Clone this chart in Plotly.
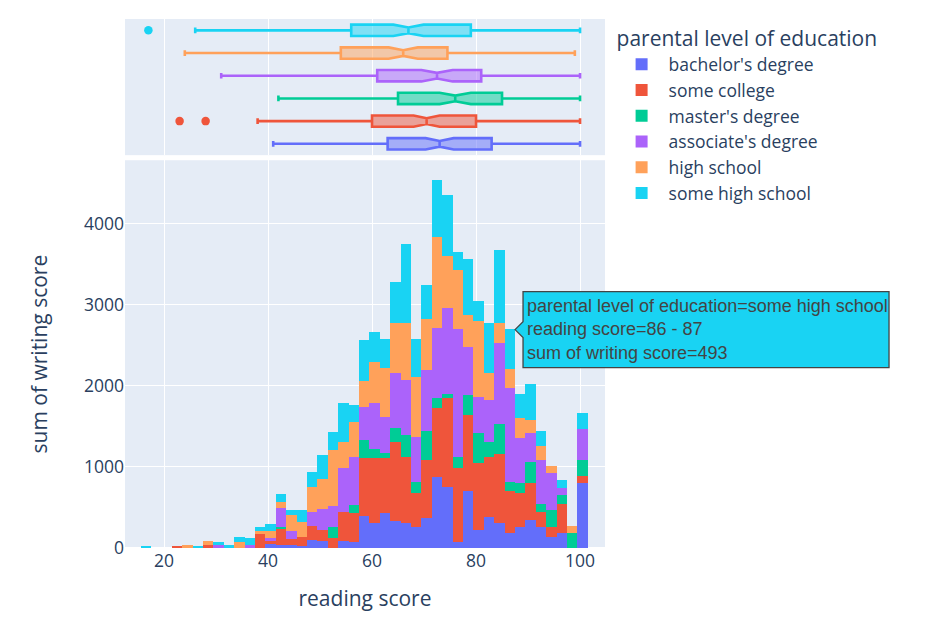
import plotly.graph_objects as go

# ---------------- data ----------------
groups = ["bachelor's degree", "some college", "master's degree",
          "associate's degree", "high school", "some high school"]
colors = ["#636efa", "#EF553B", "#00cc96", "#ab63fa", "#FFA15A", "#19d3f3"]

# histogram bins of size 2 over integer reading scores (bin "86 - 87" etc.)
bin_starts = list(range(16, 101, 2))

bachelors = [0, 0, 0, 0, 0, 0, 0, 0, 0, 0, 0, 0, 41, 40, 33, 21, 90, 82, 0, 82, 74, 390,
             300, 423, 333, 300, 259, 362, 875, 752, 74, 703, 218, 382, 300, 180, 260,
             341, 259, 136, 177, 0, 793]
some_college = [0, 0, 0, 19, 0, 0, 33, 0, 0, 0, 0, 165, 45, 198, 70, 115, 180, 136, 120,
                362, 358, 711, 801, 678, 974, 822, 411, 719, 843, 1089, 904, 933, 822,
                740, 850, 520, 420, 460, 185, 123, 361, 0, 91]
masters = [0, 0, 0, 0, 0, 0, 0, 0, 0, 0, 0, 0, 0, 21, 0, 0, 0, 0, 135, 0, 94, 227, 111,
           62, 164, 267, 144, 362, 123, 54, 144, 246, 370, 178, 370, 110, 115, 259, 94,
           205, 111, 177, 197]
associates = [0, 0, 0, 0, 0, 0, 0, 33, 0, 0, 29, 0, 29, 226, 102, 0, 170, 260, 265, 534,
              596, 402, 568, 452, 679, 678, 555, 748, 863, 1064, 1570, 596, 452, 520, 999,
              1155, 555, 358, 543, 461, 83, 0, 382]
high_school = [0, 0, 0, 0, 33, 0, 45, 0, 0, 66, 0, 37, 90, 82, 198, 184, 315, 370, 685,
               329, 432, 329, 513, 600, 616, 699, 739, 628, 1131, 637, 732, 391, 938, 330,
               247, 234, 245, 156, 177, 82, 0, 90, 0]
some_high_school = [12, 0, 0, 0, 0, 20, 0, 33, 29, 61, 86, 55, 87, 95, 61, 144, 180, 296,
                    226, 481, 205, 502, 370, 354, 514, 978, 461, 420, 698, 752, 226, 686,
                    241, 616, 904, 493, 300, 444, 181, 0, 102, 0, 193]
series = [bachelors, some_college, masters, associates, high_school, some_high_school]

# marginal box statistics (reading score) per group
box_lowerfence = [41, 38, 42, 31, 24, 26]
box_q1 = [63, 60, 65, 61, 54, 56]
box_median = [73, 70.5, 76, 72.5, 66, 67]
box_q3 = [83, 80, 85, 81, 74.5, 79]
box_upperfence = [100, 100, 100, 100, 99, 100]
box_notchspan = [2.7, 2.5, 3.0, 3.0, 2.8, 2.9]
box_outliers = [[], [23, 28], [], [], [], [17]]

# hovered bin shown in the reference
hover_group = "some high school"
hover_bin = 86

# ---------------- figure ----------------
bin_width = 2
centers = [b + 0.5 for b in bin_starts]
x_range = [12.5, 104.8]
y_max = 4780
main_dom = [0, 0.733]

fig = go.Figure()
for name, col, vals in zip(groups, colors, series):
    fig.add_trace(go.Bar(
        x=centers, y=vals, width=bin_width, name=name, legendgroup=name,
        marker=dict(color=col, line=dict(width=0)),
        xaxis="x", yaxis="y",
    ))

for k, (name, col) in enumerate(zip(groups, colors)):
    rgba = "rgba(%d,%d,%d,0.5)" % tuple(int(col[i:i + 2], 16) for i in (1, 3, 5))
    fig.add_trace(go.Box(
        y=[k], q1=[box_q1[k]], median=[box_median[k]], q3=[box_q3[k]],
        lowerfence=[box_lowerfence[k]], upperfence=[box_upperfence[k]],
        notchspan=[box_notchspan[k]], notched=True, orientation="h",
        width=0.5, name=name, legendgroup=name, showlegend=False,
        line=dict(color=col, width=2.6), fillcolor=rgba,
        xaxis="x2", yaxis="y2", boxpoints=False,
    ))
    if box_outliers[k]:
        fig.add_trace(go.Scatter(
            x=box_outliers[k], y=[k] * len(box_outliers[k]), mode="markers",
            marker=dict(color=col, size=8.5), showlegend=False,
            xaxis="x2", yaxis="y2", hoverinfo="skip",
        ))

# hover label (as in the reference snapshot)
gi = groups.index(hover_group)
bi = bin_starts.index(hover_bin)
tip_val_x = centers[bi] + bin_width / 2
tip_val_y = sum(s[bi] for s in series)
plot_w, plot_h = 480, 529
tx = (tip_val_x - x_range[0]) / (x_range[1] - x_range[0])
ty = main_dom[0] + (main_dom[1] - main_dom[0]) * tip_val_y / y_max
ax = 8 / plot_w
ay = 8 / plot_h
bw = 366 / plot_w
bh = 38 / plot_h
path = (f"M {tx},{ty} L {tx+ax},{ty+ay} L {tx+ax},{ty+bh} L {tx+ax+bw},{ty+bh} "
        f"L {tx+ax+bw},{ty-bh} L {tx+ax},{ty-bh} L {tx+ax},{ty-ay} Z")
fig.add_shape(type="path", path=path, xref="paper", yref="paper",
              fillcolor=colors[gi], line=dict(color="#444", width=1.3), layer="above")
fig.add_annotation(
    x=tx + ax + 1.5 / plot_w, y=ty, xref="paper", yref="paper",
    xanchor="left", yanchor="middle", align="left", showarrow=False,
    text=(f"parental level of education={hover_group}<br>"
          f"reading score={hover_bin} - {hover_bin + 1}<br>"
          f"sum of writing score={series[gi][bi]}"),
    font=dict(family="Arial", size=18, color="#444"),
)

fig.update_layout(
    template="plotly",
    width=927, height=622,
    margin=dict(l=117, r=330, t=11, b=82, autoexpand=False),
    font=dict(family="Open Sans, verdana, arial, sans-serif", size=17.5, color="#2a3f5f"),
    barmode="relative", bargap=0,
    legend=dict(title=dict(text="parental level of education"), tracegroupgap=0,
                itemwidth=44),
    xaxis=dict(domain=[0, 1], anchor="y", range=x_range,
               title=dict(text="reading score", standoff=20),
               gridwidth=1.3, automargin=False),
    yaxis=dict(domain=main_dom, anchor="x", range=[0, y_max], dtick=1000,
               title=dict(text="sum of writing score", standoff=30),
               gridwidth=1.3, automargin=False),
    xaxis2=dict(domain=[0, 1], anchor="y2", matches="x", showticklabels=False,
                gridwidth=1.3),
    yaxis2=dict(domain=[0.7426, 1], anchor="x2", range=[-0.5, 5.5], showticklabels=False,
                showgrid=False, zeroline=False),
    showlegend=True,
)

fig.write_html("out.html")
